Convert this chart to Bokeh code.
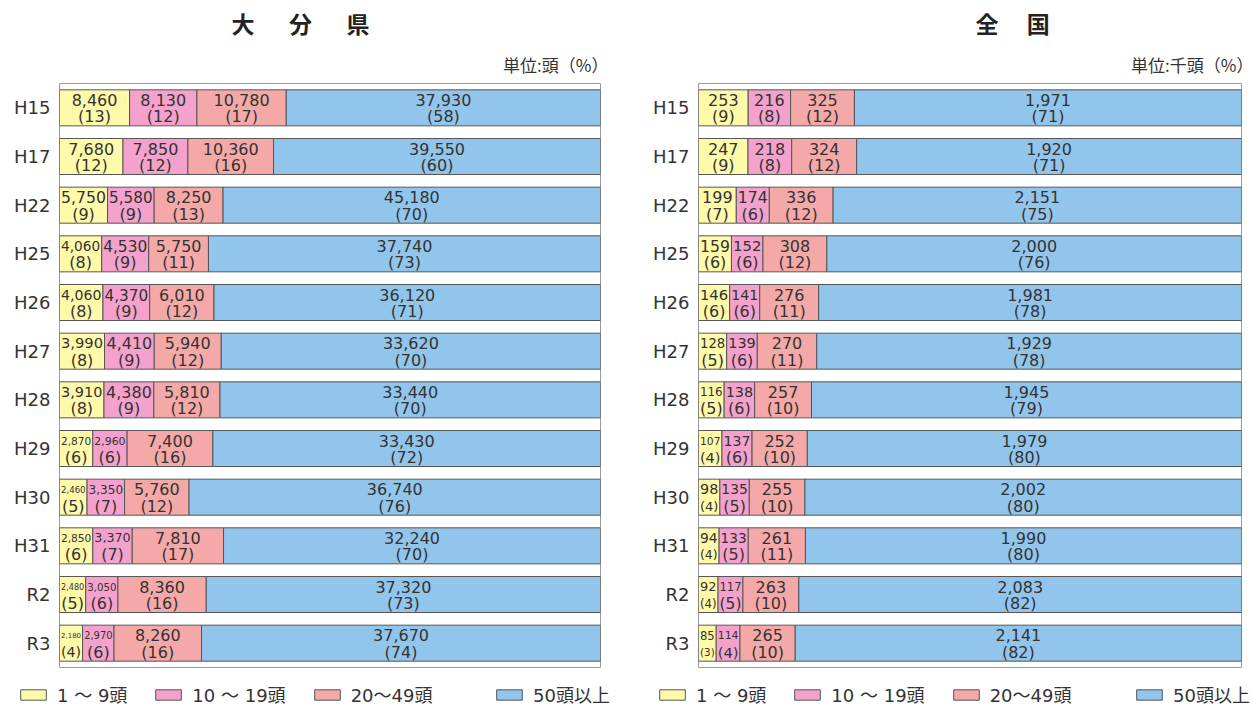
from bokeh.plotting import figure
from bokeh.models import FactorRange, Range1d, Title, Legend, LegendItem, ColumnDataSource
from bokeh.layouts import row, column
from bokeh.embed import file_html
from bokeh.resources import INLINE
from bokeh.core.properties import value

# ---------------- data ----------------
years = ["H15", "H17", "H22", "H25", "H26", "H27", "H28", "H29", "H30", "H31", "R2", "R3"]
classes = ["1 ～ 9頭", "10 ～ 19頭", "20～49頭", "50頭以上"]

# 大分県 (頭)
oita_1_9 = [8460, 7680, 5750, 4060, 4060, 3990, 3910, 2870, 2460, 2850, 2480, 2180]
oita_10_19 = [8130, 7850, 5580, 4530, 4370, 4410, 4380, 2960, 3350, 3370, 3050, 2970]
oita_20_49 = [10780, 10360, 8250, 5750, 6010, 5940, 5810, 7400, 5760, 7810, 8360, 8260]
oita_50 = [37930, 39550, 45180, 37740, 36120, 33620, 33440, 33430, 36740, 32240, 37320, 37670]
oita_pct_1_9 = [13, 12, 9, 8, 8, 8, 8, 6, 5, 6, 5, 4]
oita_pct_10_19 = [12, 12, 9, 9, 9, 9, 9, 6, 7, 7, 6, 6]
oita_pct_20_49 = [17, 16, 13, 11, 12, 12, 12, 16, 12, 17, 16, 16]
oita_pct_50 = [58, 60, 70, 73, 71, 70, 70, 72, 76, 70, 73, 74]

# 全国 (千頭)
zen_1_9 = [253, 247, 199, 159, 146, 128, 116, 107, 98, 94, 92, 85]
zen_10_19 = [216, 218, 174, 152, 141, 139, 138, 137, 135, 133, 117, 114]
zen_20_49 = [325, 324, 336, 308, 276, 270, 257, 252, 255, 261, 263, 265]
zen_50 = [1971, 1920, 2151, 2000, 1981, 1929, 1945, 1979, 2002, 1990, 2083, 2141]
zen_pct_1_9 = [9, 9, 7, 6, 6, 5, 5, 4, 4, 4, 4, 3]
zen_pct_10_19 = [8, 8, 6, 6, 6, 6, 6, 6, 5, 5, 5, 4]
zen_pct_20_49 = [12, 12, 12, 12, 11, 11, 10, 10, 10, 11, 10, 10]
zen_pct_50 = [71, 71, 75, 76, 78, 78, 79, 80, 80, 80, 82, 82]

colors = ["#FFFAAA", "#F4A2CC", "#F4A9A8", "#92C5EB"]

NUM_FONT = "DejaVu Sans"
JP_FONT = "Noto Sans CJK JP"
MIX_FONT = "DejaVu Sans, Noto Sans CJK JP"

EM = {c: 0.636 for c in "0123456789"}
EM.update({",": 0.318, "(": 0.39, ")": 0.39})


def fit_size(txt, seg_px, maxsize=16.0):
    em = sum(EM.get(c, 0.6) for c in txt)
    s = min(maxsize, (seg_px - 3) / em)
    return "%.1fpx" % max(s, 7.0)


def panel(series, pcts, title, unit, left_border, frame_w, right_border,
          title_offset, unit_offset):
    frame_h = 584
    top = 83
    p = figure(y_range=FactorRange(factors=years[::-1], range_padding=0),
               x_range=Range1d(0, 100),
               frame_width=frame_w, frame_height=frame_h,
               min_border_left=left_border, min_border_right=right_border,
               min_border_top=top, min_border_bottom=1,
               x_axis_location=None,
               toolbar_location=None, output_backend="svg")
    p.grid.visible = False
    p.outline_line_color = "#9a9a9a"
    p.outline_line_width = 1
    p.background_fill_color = "white"
    p.border_fill_color = "white"

    ax = p.yaxis[0]
    ax.axis_line_color = None
    ax.major_tick_line_color = None
    ax.minor_tick_line_color = None
    ax.major_tick_out = 0
    ax.major_tick_in = 0
    ax.major_label_text_font = NUM_FONT
    ax.major_label_text_font_size = "18px"
    ax.major_label_text_color = "#333333"
    ax.major_label_standoff = 9

    totals = [sum(v[i] for v in series) for i in range(len(years))]
    cum = [0.0] * len(years)
    for k, (vals, pc) in enumerate(zip(series, pcts)):
        left, right, mid, vt, pt, vs, ps = [], [], [], [], [], [], []
        for i in range(len(years)):
            share = vals[i] / totals[i] * 100.0
            left.append(cum[i])
            right.append(cum[i] + share)
            mid.append(cum[i] + share / 2)
            cum[i] += share
            seg_px = share / 100.0 * frame_w
            v = "{:,}".format(vals[i])
            t = "(%d)" % pc[i]
            vt.append(v)
            pt.append(t)
            vs.append(fit_size(v, seg_px))
            ps.append(fit_size(t, seg_px))
        src = ColumnDataSource(dict(y=years, left=left, right=right, mid=mid,
                                    vt=vt, pt=pt, vs=vs, ps=ps))
        p.hbar(y="y", left="left", right="right", height=0.74, source=src,
               fill_color=colors[k], line_color="#555555", line_width=1)
        p.text(x="mid", y="y", text="vt", source=src, text_font_size="vs",
               text_font=value(NUM_FONT), text_align="center", text_baseline="middle",
               text_color="#333333", y_offset=-8)
        p.text(x="mid", y="y", text="pt", source=src, text_font_size="ps",
               text_font=value(NUM_FONT), text_align="center", text_baseline="middle",
               text_color="#333333", y_offset=9)

    # titles (first added sits closest to the frame)
    ut = Title(text=unit, align="right", offset=unit_offset, text_font=JP_FONT,
               text_font_size="17px", text_font_style="normal", text_color="#333333",
               standoff=14)
    p.add_layout(ut, "above")
    mt = Title(text=title, align="left", offset=title_offset, text_font=JP_FONT,
               text_font_size="23px", text_font_style="bold", text_color="#222222",
               standoff=6)
    p.add_layout(mt, "above")
    return p


def legend_strip(width, x_first, x_last):
    lp = figure(width=width, height=39, x_range=Range1d(0, 1), y_range=Range1d(0, 1),
                min_border=0, x_axis_location=None, y_axis_location=None,
                toolbar_location=None, output_backend="svg")
    lp.grid.visible = False
    lp.outline_line_color = None
    lp.background_fill_color = "white"
    lp.border_fill_color = "white"
    rs = []
    for k in range(4):
        # legend proxy: a zero-size bar placed outside the visible range
        rs.append(lp.hbar(y=[-5], left=[-5], right=[-5], height=0,
                          fill_color=colors[k], line_color="#555555", line_width=1))
    common = dict(orientation="horizontal", glyph_width=32, glyph_height=13,
                  label_standoff=8, spacing=25, padding=0, margin=0,
                  border_line_color=None, background_fill_alpha=0,
                  label_text_font=MIX_FONT, label_text_font_size="18px",
                  label_text_color="#333333", label_height=20)
    lg1 = Legend(items=[LegendItem(label=classes[k], renderers=[rs[k]], index=0) for k in range(3)],
                 location=(x_first, 0), **common)
    lg2 = Legend(items=[LegendItem(label=classes[3], renderers=[rs[3]], index=0)],
                 location=(x_last, 0), **common)
    lp.add_layout(lg1)
    lp.add_layout(lg2)
    return lp


p1 = panel([oita_1_9, oita_10_19, oita_20_49, oita_50],
           [oita_pct_1_9, oita_pct_10_19, oita_pct_20_49, oita_pct_50],
           "大\u3000\u2002分\u3000\u2002県", "単位:頭（%）", 59, 541, 25, 172, -8)
p2 = panel([zen_1_9, zen_10_19, zen_20_49, zen_50],
           [zen_pct_1_9, zen_pct_10_19, zen_pct_20_49, zen_pct_50],
           "全\u3000 国", "単位:千頭（%）", 73, 543, 12, 277, -12)

l1 = legend_strip(625, 17, 493)
l2 = legend_strip(628, 31, 508)

layout = column(row(p1, p2), row(l1, l2))
open("out.html", "w").write(file_html(layout, INLINE))
